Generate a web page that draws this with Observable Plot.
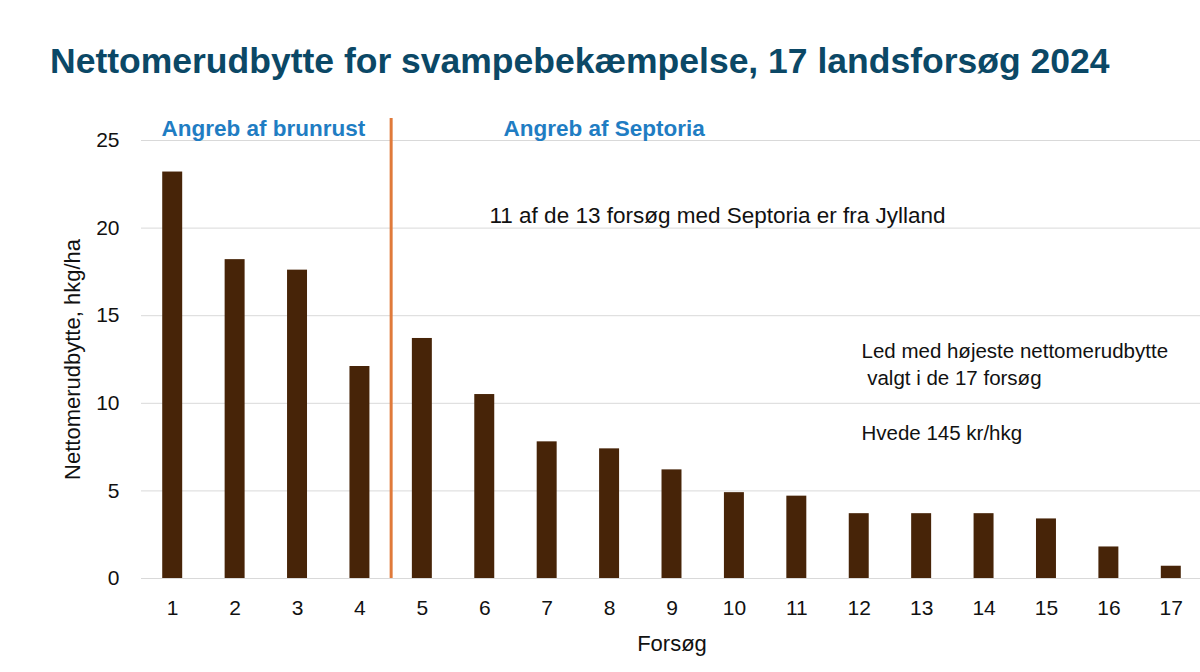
<!DOCTYPE html>
<html>
<head>
<meta charset="utf-8">
<script src="https://cdn.jsdelivr.net/npm/d3@7"></script>
<script src="https://cdn.jsdelivr.net/npm/@observablehq/plot@0.6"></script>
<style>
  html, body { margin: 0; padding: 0; background: #fff; }
  body { width: 1200px; height: 672px; overflow: hidden; font-family: "Liberation Sans", Arial, sans-serif; }
  #title { height: 110px; box-sizing: border-box; padding: 44px 0 0 50px; font-size: 35.5px; font-weight: bold; color: #0b4866; line-height: 1; white-space: nowrap; }
  #chart svg g[aria-label="y-axis label"] text, #chart svg g[aria-label="x-axis label"] text { font-size: 22px; }
</style>
</head>
<body>
<div id="title">Nettomerudbytte for svampebekæmpelse, 17 landsforsøg 2024</div>
<div id="chart"></div>
<script>
const trials = ["1","2","3","4","5","6","7","8","9","10","11","12","13","14","15","16","17"];
const yields = [23.2, 18.2, 17.6, 12.1, 13.7, 10.5, 7.8, 7.4, 6.2, 4.9, 4.7, 3.7, 3.7, 3.7, 3.4, 1.8, 0.7];
const yTicks = [0, 5, 10, 15, 20, 25];
const lastBrunrust = "4";
const groupLabels = ["Angreb af brunrust", "Angreb af Septoria"];
const noteMain = "11 af de 13 forsøg med Septoria er fra Jylland";
const noteSide = ["Led med højeste nettomerudbytte", " valgt i de 17 forsøg", "", "Hvede 145 kr/hkg"];

const data = trials.map((t, i) => ({trial: t, value: yields[i]}));

const W = 1200, H = 562, mL = 141, mR = -2, mT = 30, mB = 94;
const step = (W - mL - mR) / trials.length;

const chart = Plot.plot({
  width: W, height: H,
  marginLeft: mL, marginRight: mR, marginTop: mT, marginBottom: mB,
  style: {fontFamily: "'Liberation Sans', Arial, sans-serif", fontSize: "21px", color: "#111", background: "#fff", overflow: "visible"},
  x: {domain: trials, round: false, paddingInner: 0.68, paddingOuter: 0.34, label: "Forsøg", labelAnchor: "center", labelOffset: 72, tickSize: 0, tickPadding: 22},
  y: {domain: [0, 25], ticks: yTicks, label: "Nettomerudbytte, hkg/ha", labelAnchor: "center", labelArrow: "none", labelOffset: 77, tickSize: 0, tickPadding: 22},
  marks: [
    Plot.gridY(yTicks, {stroke: "#d9d9d9", strokeOpacity: 1, strokeWidth: 1}),
    Plot.barY(data, {x: "trial", y: "value", fill: "#472408"}),
    Plot.ruleX([lastBrunrust], {x: d => d, dx: step / 2, y1: 0, y2: 26.25, stroke: "#e07a3a", strokeWidth: 3}),
    Plot.text([groupLabels[0]], {frameAnchor: "top-left", lineAnchor: "top", dx: 20, dy: -20, fill: "#1f7dc3", fontWeight: "bold", fontSize: 22.5, textAnchor: "start", text: d => d}),
    Plot.text([groupLabels[1]], {frameAnchor: "top-left", lineAnchor: "top", dx: 362, dy: -20, fill: "#1f7dc3", fontWeight: "bold", fontSize: 22.5, textAnchor: "start", text: d => d}),
    Plot.text([noteMain], {frameAnchor: "top-left", lineAnchor: "top", dx: 348, dy: 67, fill: "#111", fontSize: 22.5, textAnchor: "start", text: d => d}),
    Plot.text([noteSide.join("\n")], {frameAnchor: "top-left", lineAnchor: "top", dx: 720, dy: 198, fill: "#111", fontSize: 20.5, lineHeight: 1.33, textAnchor: "start", text: d => d})
  ]
});
document.getElementById("chart").appendChild(chart);
</script>
</body>
</html>
